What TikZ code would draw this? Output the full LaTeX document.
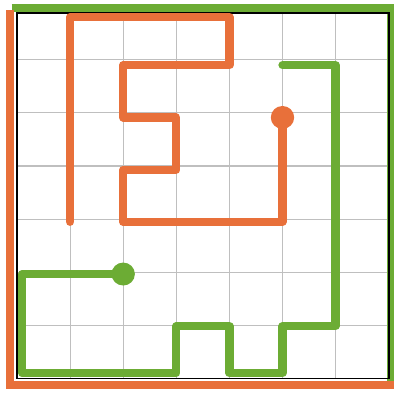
\documentclass[tikz,border=0pt]{standalone}
\usepackage{tikz}
\usetikzlibrary{calc}
\definecolor{snakeorange}{RGB}{232,112,58}
\definecolor{snakegreen}{RGB}{108,172,52}

\begin{document}
\begin{tikzpicture}[x=1cm,y=0.983cm,
	orangeline/.style={snakeorange,line width=4.4pt,line join=round,line cap=round},
	greenline/.style={snakegreen,line width=4.4pt,line join=round,line cap=round}
]
	\useasboundingbox (-0.32,-0.287) rectangle (7.10,7.25);
	\draw[black!25,line width=0.6pt] (0,0) grid (7,7);
	% frame
	\draw[snakegreen,line width=4.4pt] (-0.1,7.1)--(7.05,7.1)--(7.05,-0.05);
	\draw[snakeorange,line width=4.4pt] (-0.13,7.05)--(-0.13,-0.13)--(7.18,-0.13);
	\draw[black,line width=0.9pt] (0,0) rectangle (7,7);
	% orange snake
	\coordinate (orangehead) at (5,5);
	\draw[orangeline] (1,3)--(1,6.92)--(4,6.92)--(4,6)--(2,6)--(2,5)--(3,5)--(3,4)--(2,4)--(2,3)--(5,3)--(orangehead);
	\fill[snakeorange] (orangehead) circle (0.22);
	% green snake
	\coordinate (greenhead) at (2,2);
	\draw[greenline] (5,6)--(6,6)--(6,1)--(5,1)--(5,0.1)--(4,0.1)--(4,1)--(3,1)--(3,0.1)--(0.1,0.1)--(0.1,2)--(greenhead);
	\fill[snakegreen] (greenhead) circle (0.22);
\end{tikzpicture}
\end{document}
